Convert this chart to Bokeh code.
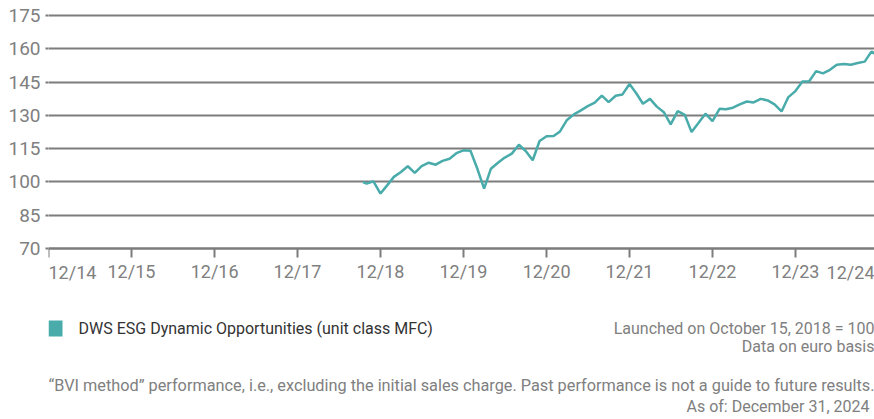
import pandas as pd
from bokeh.plotting import figure
from bokeh.models import Range1d, FixedTicker, Label, BoxAnnotation, ColumnDataSource
from bokeh.embed import file_html
from bokeh.resources import INLINE

# ---------------- data ----------------
dates = [
    "2018-10-15", "2018-10-31", "2018-11-30", "2018-12-31",
    "2019-01-31", "2019-02-28", "2019-03-31", "2019-04-30", "2019-05-31", "2019-06-30",
    "2019-07-31", "2019-08-31", "2019-09-30", "2019-10-31", "2019-11-30", "2019-12-31",
    "2020-01-31", "2020-02-29", "2020-03-31", "2020-04-30", "2020-05-31", "2020-06-30",
    "2020-07-31", "2020-08-31", "2020-09-30", "2020-10-31", "2020-11-30", "2020-12-31",
    "2021-01-31", "2021-02-28", "2021-03-31", "2021-04-30", "2021-05-31", "2021-06-30",
    "2021-07-31", "2021-08-31", "2021-09-30", "2021-10-31", "2021-11-30", "2021-12-31",
    "2022-01-31", "2022-02-28", "2022-03-31", "2022-04-30", "2022-05-31", "2022-06-30",
    "2022-07-31", "2022-08-31", "2022-09-30", "2022-10-31", "2022-11-30", "2022-12-31",
    "2023-01-31", "2023-02-28", "2023-03-31", "2023-04-30", "2023-05-31", "2023-06-30",
    "2023-07-31", "2023-08-31", "2023-09-30", "2023-10-31", "2023-11-30", "2023-12-31",
    "2024-01-31", "2024-02-29", "2024-03-31", "2024-04-30", "2024-05-31", "2024-06-30",
    "2024-07-31", "2024-08-31", "2024-09-30", "2024-10-31", "2024-11-30", "2024-12-31",
]
fund_values = [
    100.0, 99.3, 100.3, 94.8,
    98.7, 102.3, 104.5, 107.1, 104.1, 107.2,
    108.7, 107.8, 109.5, 110.5, 113.0, 114.3,
    114.1, 106.3, 97.0, 106.0, 108.7, 111.0,
    112.8, 116.8, 114.0, 109.8, 118.5, 120.6,
    120.7, 122.8, 128.0, 130.5, 132.3, 134.2,
    135.8, 139.0, 136.0, 138.9, 139.5, 144.2,
    139.8, 135.3, 137.5, 134.0, 131.5, 126.0,
    132.0, 130.3, 122.5, 126.7, 130.8, 127.5,
    133.0, 132.8, 133.5, 135.0, 136.3, 135.9,
    137.5, 136.8, 135.0, 131.8, 138.3, 141.0,
    145.3, 145.3, 150.0, 149.0, 150.6, 152.9,
    153.2, 152.9, 153.7, 154.3, 158.9, 156.7,
]
x_tick_dates = ["2014-12-31", "2015-12-31", "2016-12-31", "2017-12-31", "2018-12-31",
                "2019-12-31", "2020-12-31", "2021-12-31", "2022-12-31", "2023-12-31",
                "2024-12-31"]
x_tick_labels = ["12/14", "12/15", "12/16", "12/17", "12/18", "12/19", "12/20",
                 "12/21", "12/22", "12/23", "12/24"]
y_ticks = [70, 85, 100, 115, 130, 145, 160, 175]

series_name = "DWS ESG Dynamic Opportunities (unit class MFC)"
note_launch = "Launched on October 15, 2018 = 100"
note_basis = "Data on euro basis"
note_bvi = ("\u201cBVI method\u201d performance, i.e., excluding the initial sales charge. "
            "Past performance is not a guide to future results.")
note_asof = "As of: December 31, 2024"

# ---------------- styling / layout ----------------
TEAL = "#4aabab"
GRID = "#7c7c7c"
LABEL = "#808080"
DARK = "#333333"
FONT = "Roboto"

W, H = 874, 419
B_LEFT, B_TOP = 48, 13
AXIS_Y_PX = 248                       # page row of the value-70 axis line
Y_MIN, Y_TOP = 70, 176
px_per_unit = (AXIS_Y_PX - B_TOP) / (Y_TOP - Y_MIN)
# the frame runs down to the bottom of the canvas so that the notes fit inside it
y_start = Y_MIN - (H - AXIS_Y_PX) / px_per_unit


def ms(d):
    return (pd.Timestamp(d) - pd.Timestamp("1970-01-01")).total_seconds() * 1000.0


tick_ms = [ms(d) for d in x_tick_dates]

src = ColumnDataSource(dict(date=pd.to_datetime(dates), value=fund_values))

p = figure(width=W, height=H, x_axis_type="datetime",
           x_range=Range1d(ms("2014-12-31"), ms("2024-12-13")),
           y_range=Range1d(y_start, Y_TOP),
           output_backend="svg", toolbar_location=None,
           min_border_left=B_LEFT, min_border_right=0,
           min_border_top=B_TOP, min_border_bottom=0)
p.outline_line_color = None
p.background_fill_color = "white"
p.border_fill_color = "white"

# grid
p.xgrid.visible = False
p.ygrid.ticker = FixedTicker(ticks=y_ticks)
p.ygrid.grid_line_color = GRID
p.ygrid.grid_line_width = 2

# y axis
ya = p.yaxis[0]
ya.ticker = FixedTicker(ticks=y_ticks)
ya.axis_line_color = None
ya.major_tick_line_color = GRID
ya.major_tick_line_width = 2
ya.major_tick_out = 3
ya.major_tick_in = 0
ya.minor_tick_line_color = None
ya.major_label_text_font = FONT
ya.major_label_text_font_size = "19px"
ya.major_label_text_color = LABEL
ya.major_label_standoff = 5

# x axis, pinned at value 70
xa = p.xaxis[0]
xa.fixed_location = Y_MIN
xa.ticker = FixedTicker(ticks=tick_ms)
overrides = {t: lab for t, lab in zip(tick_ms, x_tick_labels)}
overrides[tick_ms[0]] = ""
xa.major_label_overrides = overrides
xa.axis_line_color = GRID
xa.axis_line_width = 2
xa.major_tick_line_color = GRID
xa.major_tick_line_width = 2
xa.major_tick_out = 9
xa.major_tick_in = 0
xa.minor_tick_line_color = None
xa.major_label_text_font = FONT
xa.major_label_text_font_size = "18px"
xa.major_label_text_color = LABEL
xa.major_label_standoff = 3

# the series
p.line(x="date", y="value", source=src, line_color=TEAL, line_width=2.5)


# screen units of annotations: pixels from the frame's bottom-left corner
def sx(px):
    return px - B_LEFT


def sy(py):
    return H - py


def lab(text, px, py, align="left", color=LABEL, size="16px", baseline="middle"):
    p.add_layout(Label(x=sx(px), y=sy(py), x_units="screen", y_units="screen",
                       text=text, text_align=align, text_baseline=baseline,
                       text_font=FONT, text_font_size=size, text_color=color))


# first / last x labels kept inside the frame
lab(x_tick_labels[0], 48, 261, align="left", size="18px", baseline="top")
lab(x_tick_labels[-1], 874, 261, align="right", size="18px", baseline="top")

# legend swatch + text
p.add_layout(BoxAnnotation(left=sx(48), right=sx(62), top=sy(320), bottom=sy(336),
                           left_units="screen", right_units="screen",
                           top_units="screen", bottom_units="screen",
                           fill_color=TEAL, fill_alpha=1.0, line_color=None))
lab(series_name, 78, 328, color=DARK)
lab(note_launch, 874, 328, align="right")
lab(note_basis, 874, 346, align="right")
lab(note_bvi, 874, 385, align="right", size="16.3px")
lab(note_asof, 869, 406, align="right")

open("out.html", "w").write(file_html(p, INLINE))
